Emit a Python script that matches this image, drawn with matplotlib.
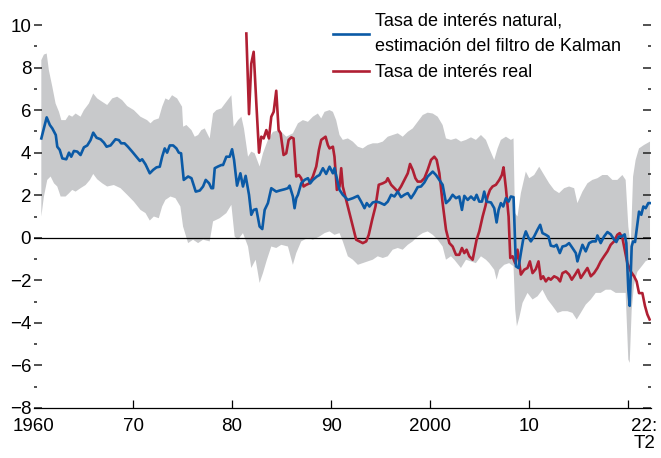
import matplotlib
matplotlib.use("Agg")
import matplotlib.pyplot as plt
import numpy as np

plt.rcParams['font.family'] = ['Liberation Sans', 'DejaVu Sans']

BLUE = '#0b5aa6'
RED = '#b01f33'
GRAY = '#c8c9cb'

# Tasa de interés natural (filtro de Kalman)
natural_years = [
    1960.74, 1961.28, 1961.6, 1961.85, 1962.2, 1962.35, 1962.6, 1962.86, 1963.26, 1963.53,
    1963.76, 1964.03, 1964.37, 1964.7, 1965.04, 1965.38, 1965.71, 1965.98, 1966.32, 1966.72,
    1967.06, 1967.33, 1967.73, 1968.23, 1968.57, 1968.8, 1969.14, 1969.48, 1969.91, 1970.25,
    1970.69, 1970.92, 1971.26, 1971.69, 1972.03, 1972.37, 1972.7, 1972.94, 1973.2, 1973.44,
    1973.71, 1974.05, 1974.38, 1974.62, 1974.85, 1975.12, 1975.56, 1975.9, 1976.06, 1976.33,
    1976.74, 1977.07, 1977.34, 1977.68, 1977.91, 1978.08, 1978.25, 1978.58, 1978.92, 1979.09,
    1979.42, 1979.76, 1980.0, 1980.2, 1980.5, 1980.84, 1981.1, 1981.37, 1981.71, 1981.94,
    1982.18, 1982.45, 1982.78, 1983.05, 1983.29, 1983.62, 1983.96, 1984.46, 1984.8, 1985.3,
    1985.64, 1985.81, 1986.14, 1986.31, 1986.48, 1986.65, 1986.98, 1987.32, 1987.66, 1987.89,
    1988.16, 1988.56, 1988.83, 1989.17, 1989.5, 1989.84, 1990.18, 1990.34, 1990.58, 1990.85,
    1991.18, 1991.69, 1992.19, 1992.7, 1993.03, 1993.37, 1993.6, 1993.87, 1994.21, 1994.54,
    1994.88, 1995.38, 1995.72, 1996.06, 1996.39, 1996.73, 1997.06, 1997.4, 1997.74, 1998.07,
    1998.41, 1998.74, 1999.08, 1999.42, 1999.75, 2000.26, 2000.59, 2000.93, 2001.26, 2001.6,
    2001.94, 2002.27, 2002.61, 2002.94, 2003.21, 2003.45, 2003.79, 2004.12, 2004.46, 2004.69,
    2004.96, 2005.23, 2005.46, 2005.7, 2006.14, 2006.47, 2006.71, 2006.91, 2007.14, 2007.38,
    2007.65, 2007.92, 2008.15, 2008.42, 2008.66, 2008.92, 2009.16, 2009.39, 2009.66, 2009.93,
    2010.17, 2010.5, 2010.84, 2011.11, 2011.34, 2011.68, 2011.95, 2012.18, 2012.52, 2012.76,
    2013.09, 2013.36, 2013.7, 2014.03, 2014.37, 2014.71, 2014.87, 2015.11, 2015.38, 2015.71,
    2016.05, 2016.38, 2016.72, 2016.89, 2017.22, 2017.56, 2017.9, 2018.23, 2018.57, 2018.8,
    2019.07, 2019.34, 2019.64, 2019.81, 2020.01, 2020.15, 2020.35, 2020.49, 2020.69, 2020.85,
    2021.09, 2021.32, 2021.53, 2021.76, 2022.03, 2022.2,
]
natural_rate = [
    4.67, 5.66, 5.30, 5.14, 4.83, 4.28, 4.13, 3.73, 3.69, 4.00,
    3.81, 4.08, 4.05, 3.89, 4.25, 4.34, 4.59, 4.94, 4.70, 4.63,
    4.47, 4.28, 4.34, 4.63, 4.59, 4.44, 4.44, 4.28, 4.05, 3.86,
    3.61, 3.69, 3.45, 3.03, 3.19, 3.31, 3.34, 3.81, 4.20, 4.00,
    4.34, 4.34, 4.20, 4.00, 3.97, 2.72, 2.88, 2.80, 2.56, 2.17,
    2.22, 2.41, 2.72, 2.56, 2.33, 2.33, 3.27, 3.35, 3.42, 3.42,
    3.81, 3.81, 4.16, 3.66, 2.45, 3.03, 2.41, 2.91, 2.02, 1.08,
    1.31, 1.35, 0.53, 0.41, 1.31, 1.63, 2.33, 2.17, 2.22, 2.28,
    2.33, 2.45, 1.94, 1.39, 1.86, 2.02, 2.56, 2.72, 2.80, 2.56,
    2.72, 2.88, 2.95, 3.27, 3.00, 3.34, 3.03, 3.27, 2.80, 2.25,
    2.02, 1.78, 1.86, 1.97, 1.70, 1.39, 1.63, 1.47, 1.66, 1.70,
    1.66, 1.55, 1.70, 2.02, 1.94, 2.17, 1.91, 2.02, 2.10, 1.86,
    2.10, 2.38, 2.41, 2.60, 2.88, 3.11, 2.95, 2.72, 2.49, 1.63,
    1.78, 2.02, 1.86, 1.94, 1.31, 1.97, 1.78, 1.94, 1.78, 2.02,
    1.70, 1.70, 2.17, 1.70, 1.66, 1.39, 0.72, 1.31, 1.63, 1.47,
    1.86, 1.70, 1.94, 1.91, -1.34, -1.42, -0.72, -0.09, 0.30, 0.00,
    -0.17, 0.06, 0.38, 0.61, 0.22, 0.14, 0.06, -0.37, -0.41, -0.33,
    -0.72, -0.41, -0.37, -0.25, -0.48, -0.72, -1.11, -0.72, -0.33, -0.64,
    -0.25, -0.17, -0.17, 0.11, -0.25, 0.06, 0.27, 0.16, -0.08, -0.20,
    0.06, 0.06, 0.16, -0.25, -2.44, -3.20, -0.41, -0.17, -0.20, 0.38,
    1.23, 1.08, 1.47, 1.39, 1.63, 1.63,
]

# Tasa de interés real
real_years = [
    1981.44, 1981.71, 1981.94, 1982.18, 1982.45, 1982.72, 1982.95, 1983.19, 1983.46, 1983.72,
    1983.96, 1984.2, 1984.46, 1984.7, 1984.9, 1985.2, 1985.47, 1985.71, 1985.98, 1986.21,
    1986.48, 1986.75, 1986.98, 1987.22, 1987.49, 1987.82, 1988.16, 1988.5, 1988.77, 1989.0,
    1989.44, 1989.67, 1989.84, 1990.18, 1990.34, 1990.58, 1990.85, 1991.02, 1991.18, 1991.52,
    1991.86, 1992.19, 1992.53, 1992.86, 1993.2, 1993.54, 1993.8, 1994.14, 1994.48, 1994.81,
    1995.22, 1995.55, 1995.72, 1996.06, 1996.39, 1996.73, 1997.06, 1997.4, 1997.74, 1997.97,
    1998.24, 1998.51, 1998.74, 1999.08, 1999.42, 1999.75, 2000.09, 2000.42, 2000.66, 2000.93,
    2001.26, 2001.6, 2001.94, 2002.27, 2002.61, 2002.94, 2003.21, 2003.45, 2003.68, 2003.95,
    2004.29, 2004.46, 2004.69, 2004.96, 2005.3, 2005.57, 2005.8, 2006.04, 2006.3, 2006.64,
    2006.98, 2007.24, 2007.41, 2007.65, 2007.92, 2008.09, 2008.32, 2008.59, 2008.82, 2009.16,
    2009.5, 2009.83, 2010.07, 2010.34, 2010.67, 2010.94, 2011.18, 2011.41, 2011.68, 2011.95,
    2012.18, 2012.52, 2012.86, 2013.12, 2013.36, 2013.7, 2014.03, 2014.3, 2014.64, 2014.94,
    2015.21, 2015.54, 2015.88, 2016.22, 2016.55, 2016.89, 2017.22, 2017.56, 2017.9, 2018.23,
    2018.57, 2018.9, 2019.14, 2019.41, 2019.64, 2019.91, 2020.25, 2020.59, 2020.85, 2021.09,
    2021.43, 2021.69, 2021.93, 2022.16,
]
real_rate = [
    9.60, 5.81, 8.19, 8.74, 6.31, 4.00, 4.75, 4.67, 5.06, 4.67,
    5.69, 5.92, 6.91, 5.06, 4.91, 3.89, 3.97, 4.60, 4.72, 4.67,
    2.88, 2.95, 2.80, 2.41, 2.49, 2.56, 2.88, 3.35, 4.13, 4.60,
    4.75, 4.36, 4.20, 4.28, 3.81, 2.25, 2.41, 3.27, 2.41, 1.78,
    1.16, 0.53, -0.09, -0.17, -0.25, -0.17, 0.14, 0.84, 1.47, 2.49,
    2.56, 2.64, 2.80, 2.49, 2.33, 2.17, 2.41, 2.72, 3.03, 3.47,
    3.19, 2.80, 2.64, 2.64, 2.80, 3.19, 3.66, 3.81, 3.66, 3.03,
    1.63, 0.38, -0.25, -0.41, -0.80, -0.80, -0.48, -0.72, -0.56, -0.87,
    -1.03, -0.64, -0.09, 0.30, 1.00, 1.47, 1.94, 2.25, 2.41, 2.49,
    2.72, 2.95, 3.31, 2.33, 1.00, -0.95, -0.87, -1.20, -0.56, -1.73,
    -1.50, -1.42, -1.11, -1.66, -1.47, -1.11, -1.94, -1.81, -2.05, -1.89,
    -1.97, -1.81, -1.89, -2.05, -1.66, -1.58, -1.73, -1.97, -1.73, -1.50,
    -1.89, -1.66, -1.42, -1.81, -1.66, -1.42, -1.11, -0.87, -0.64, -0.33,
    -0.17, 0.14, 0.22, 0.00, -0.56, -1.19, -1.58, -1.81, -2.05, -2.60,
    -2.60, -3.20, -3.60, -3.84,
]

# Banda de confianza: límite superior
upper_years = [
    1960.74, 1961.0, 1961.28, 1961.5, 1961.85, 1962.18, 1962.52, 1962.76, 1963.19, 1963.53,
    1963.86, 1964.2, 1964.7, 1965.04, 1965.54, 1965.98, 1966.38, 1966.89, 1967.39, 1967.9,
    1968.4, 1968.9, 1969.41, 1970.08, 1970.75, 1971.42, 1971.76, 1972.1, 1972.6, 1972.94,
    1973.27, 1973.61, 1973.94, 1974.45, 1974.95, 1975.06, 1975.39, 1975.9, 1976.23, 1976.57,
    1976.9, 1977.24, 1977.74, 1978.08, 1978.42, 1978.92, 1979.42, 1979.93, 1980.16, 1980.6,
    1980.94, 1981.2, 1981.61, 1981.94, 1982.28, 1982.78, 1983.12, 1983.62, 1984.13, 1984.8,
    1985.47, 1986.14, 1986.65, 1987.15, 1987.66, 1988.16, 1988.66, 1989.0, 1989.34, 1989.84,
    1990.18, 1990.51, 1990.85, 1991.18, 1991.69, 1992.19, 1992.7, 1993.2, 1993.7, 1994.21,
    1994.71, 1995.22, 1995.72, 1996.22, 1996.73, 1997.23, 1997.74, 1998.24, 1998.74, 1999.25,
    1999.75, 2000.26, 2000.76, 2001.26, 2001.6, 2002.1, 2002.61, 2003.11, 2003.62, 2004.12,
    2004.62, 2005.13, 2005.63, 2005.97, 2006.47, 2006.81, 2007.14, 2007.65, 2008.15, 2008.42,
    2008.56, 2008.82, 2009.16, 2009.66, 2010.0, 2010.5, 2011.01, 2011.51, 2012.02, 2012.52,
    2013.02, 2013.53, 2014.03, 2014.54, 2014.87, 2015.38, 2015.88, 2016.38, 2016.89, 2017.39,
    2017.9, 2018.4, 2018.9, 2019.41, 2019.74, 2020.01, 2020.25, 2020.49, 2020.75, 2021.09,
    2021.59, 2022.2,
]
upper_band = [
    8.35, 8.61, 8.66, 7.88, 7.10, 6.31, 5.92, 5.53, 5.53, 5.77,
    5.69, 5.84, 5.69, 6.00, 6.31, 6.78, 6.55, 6.39, 6.24, 6.55,
    6.63, 6.47, 6.19, 6.00, 5.69, 5.53, 5.38, 5.53, 5.61, 6.16,
    6.55, 6.47, 6.70, 6.55, 6.16, 5.22, 5.30, 5.06, 4.75, 4.83,
    5.06, 5.14, 4.67, 5.84, 6.00, 6.08, 6.39, 6.70, 5.22, 5.53,
    5.69, 5.14, 3.81, 4.05, 3.97, 3.35, 3.97, 4.60, 4.98, 5.06,
    4.75, 4.91, 5.38, 5.53, 5.45, 5.69, 5.84, 5.61, 5.92, 6.00,
    5.92, 5.53, 4.83, 4.60, 4.67, 4.52, 4.28, 4.20, 4.36, 4.44,
    4.44, 4.52, 4.75, 4.83, 4.91, 4.75, 4.98, 5.14, 5.45, 5.77,
    5.88, 5.84, 5.69, 5.30, 4.67, 4.60, 4.67, 4.52, 4.60, 4.72,
    4.60, 4.83, 4.60, 4.20, 3.66, 4.20, 4.60, 4.75, 4.60, 4.67,
    1.16, 1.00, 2.10, 3.11, 2.80, 2.95, 3.34, 2.95, 2.56, 2.25,
    2.10, 2.33, 2.41, 2.33, 1.63, 2.17, 2.56, 2.72, 2.80, 2.95,
    2.95, 2.72, 2.72, 2.95, 2.72, 0.53, -0.41, 2.88, 3.66, 4.20,
    4.36, 4.52,
]

# Banda de confianza: límite inferior
lower_years = [
    1960.74, 1961.0, 1961.34, 1961.68, 1962.02, 1962.35, 1962.69, 1963.19, 1963.53, 1963.86,
    1964.2, 1964.7, 1965.21, 1965.65, 1965.98, 1966.38, 1966.89, 1967.39, 1968.06, 1968.74,
    1969.41, 1970.08, 1970.75, 1971.26, 1971.69, 1972.1, 1972.6, 1972.94, 1973.27, 1973.78,
    1974.28, 1974.78, 1975.05, 1975.56, 1976.06, 1976.57, 1977.07, 1977.74, 1978.08, 1978.75,
    1979.42, 1979.93, 1980.26, 1980.6, 1981.1, 1981.61, 1981.94, 1982.38, 1982.78, 1983.12,
    1983.52, 1983.96, 1984.46, 1984.97, 1985.64, 1986.14, 1986.48, 1986.98, 1987.66, 1988.16,
    1988.83, 1989.34, 1989.84, 1990.34, 1990.85, 1991.18, 1991.69, 1992.19, 1992.7, 1993.2,
    1993.7, 1994.21, 1994.71, 1995.22, 1995.72, 1996.22, 1996.73, 1997.23, 1997.74, 1998.24,
    1998.74, 1999.25, 1999.75, 2000.26, 2000.76, 2001.26, 2001.6, 2002.1, 2002.44, 2003.11,
    2003.62, 2004.12, 2004.62, 2005.13, 2005.63, 2005.97, 2006.47, 2006.71, 2006.98, 2007.48,
    2007.98, 2008.42, 2008.59, 2008.76, 2008.99, 2009.33, 2009.83, 2010.34, 2010.84, 2011.34,
    2011.85, 2012.35, 2012.86, 2013.36, 2013.86, 2014.37, 2014.8, 2015.21, 2015.71, 2016.22,
    2016.72, 2017.22, 2017.73, 2018.23, 2018.74, 2019.24, 2019.74, 2020.01, 2020.15, 2020.35,
    2020.59, 2020.92, 2021.43, 2021.76, 2022.2,
]
lower_band = [
    1.00, 1.94, 2.72, 2.88, 2.56, 2.41, 1.94, 1.94, 2.09, 2.25,
    2.17, 2.33, 2.48, 2.72, 3.00, 2.75, 2.56, 2.41, 2.48, 2.33,
    2.02, 1.70, 1.31, 1.16, 0.81, 1.00, 0.92, 1.47, 1.78, 1.94,
    1.86, 1.47, 0.53, -0.25, -0.09, -0.25, -0.09, -0.17, 0.77, 0.92,
    1.16, 1.55, 0.06, -0.09, 0.22, -0.41, -1.42, -1.03, -2.12, -1.66,
    -1.03, -0.41, -0.48, -0.33, -0.41, -1.27, -0.72, -0.17, 0.00, -0.09,
    0.06, 0.22, 0.30, 0.14, 0.22, -0.17, -0.87, -1.03, -1.27, -1.19,
    -1.11, -1.03, -0.87, -0.95, -0.87, -0.56, -0.48, -0.56, -0.33, -0.17,
    0.06, 0.22, 0.30, 0.14, -0.09, -0.41, -1.03, -0.87, -1.03, -1.42,
    -1.03, -1.11, -1.19, -0.87, -1.03, -1.19, -1.50, -1.97, -1.50, -1.27,
    -1.19, -1.34, -3.37, -4.16, -3.77, -3.06, -2.59, -2.90, -2.75, -2.44,
    -2.90, -3.20, -3.53, -3.45, -3.45, -3.53, -3.84, -3.53, -3.14, -2.90,
    -2.59, -2.59, -2.44, -2.44, -2.59, -2.59, -2.59, -5.72, -5.88, -3.37,
    -2.20, -1.60, -1.30, -1.10, -1.00,
]

x_major = [1970, 1980, 1990, 2000, 2010, 2020]
x_major_labels = ['70', '80', '90', '2000', '10', '']
x_edge = [1960, 2021.6]
x_edge_labels = ['1960', '22:\nT2']

fig = plt.figure(figsize=(6.61, 4.58), dpi=100)
ax = fig.add_axes([34 / 661, 1 - 408 / 458, 617 / 661, 383 / 458])

band_x = np.concatenate([upper_years, lower_years[::-1]])
band_y = np.concatenate([upper_band, lower_band[::-1]])
ax.fill(band_x, band_y, color=GRAY, lw=0, zorder=1)

ax.axhline(0, color='black', lw=0.9, zorder=2)
ax.plot(natural_years, natural_rate, color=BLUE, lw=1.9, zorder=4,
        label='Tasa de interés natural,\nestimación del filtro de Kalman')
ax.plot(real_years, real_rate, color=RED, lw=1.9, zorder=3,
        label='Tasa de interés real')

ax.set_xlim(1960, 2022.3)
ax.set_ylim(-8, 10)

for s in ['left', 'right', 'top']:
    ax.spines[s].set_visible(False)
ax.spines['bottom'].set_linewidth(0.9)

ax.set_yticks(range(-8, 11, 2))
ax.set_yticks(range(-7, 10, 2), minor=True)
ax.set_yticklabels([str(v).replace('-', '\u2212') for v in range(-8, 11, 2)])
ax.tick_params(axis='y', which='major', direction='in', length=6, width=1.1,
               left=True, right=True, pad=2, labelsize=13.5, color='#222222')
ax.tick_params(axis='y', which='minor', direction='in', length=2.5, width=1.1,
               left=True, right=True, color='#222222')

ax.set_xticks(x_major)
ax.set_xticklabels(x_major_labels)
ax.set_xticks(x_edge, minor=True)
ax.set_xticklabels(x_edge_labels, minor=True)
ax.tick_params(axis='x', which='major', direction='in', length=6, width=0.9,
               pad=7, labelsize=13.5)
ax.tick_params(axis='x', which='minor', length=0, pad=7, labelsize=13.5)
for t in ax.get_xticklabels(minor=True):
    t.set_linespacing(1.0)

leg = ax.legend(loc='upper left', bbox_to_anchor=(333 / 661, 1 - 13 / 458),
                bbox_transform=fig.transFigure, frameon=False, fontsize=13,
                handlelength=2.0, handletextpad=0.3, labelspacing=0.5,
                borderpad=0, borderaxespad=0)
leg.get_texts()[0].set_linespacing(1.6)

fig.savefig('out.png', dpi=100)
